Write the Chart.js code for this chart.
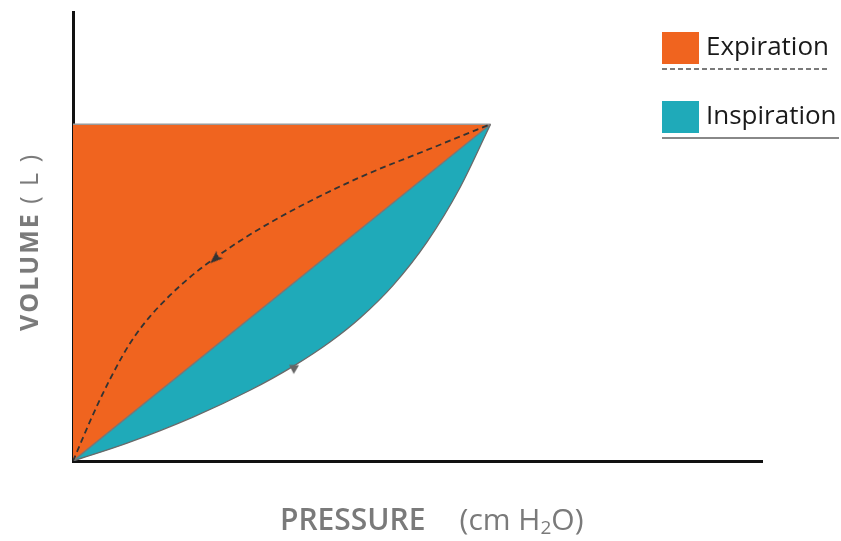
<!DOCTYPE html>
<html>
<head>
<meta charset="utf-8">
<script src="https://cdn.jsdelivr.net/npm/chart.js@4"></script>
<style>
  body { margin: 0; background: #fff; font-family: "Open Sans", sans-serif; }
  #wrap { position: relative; width: 841px; height: 541px; }
  #legend { position: absolute; left: 662px; top: 32px; }
  .item { position: relative; height: 69px; }
  .box { position: absolute; left: 0; top: 0; width: 37px; height: 32px; }
  .label { position: absolute; left: 44px; top: -5px; font-size: 26px; color: #1a1a1a; white-space: nowrap; }
  .rule { position: absolute; left: 0; top: 36px; height: 2px; }
  #xtitle { position: absolute; left: 280px; top: 498px; font-size: 30px; color: #7a7a7a; white-space: nowrap; }
  #xtitle b { font-weight: 600; margin-right: 34px; }
  #ytitle { position: absolute; left: 28px; top: 242px; transform: translate(-50%, -50%) rotate(-90deg);
            font-size: 25px; color: #7a7a7a; white-space: nowrap; letter-spacing: 2px; }
  #ytitle b { font-weight: 700; }
</style>
</head>
<body>
<div id="wrap">
  <canvas id="myChart"></canvas>
  <div id="legend">
    <div class="item">
      <div class="box" style="background:#F0641F"></div>
      <div class="label">Expiration</div>
      <div class="rule" style="width:166px;background:repeating-linear-gradient(90deg,#7a7a7a 0 5px,transparent 5px 8px)"></div>
    </div>
    <div class="item">
      <div class="box" style="background:#1FAAB9"></div>
      <div class="label">Inspiration</div>
      <div class="rule" style="width:177px;background:#888"></div>
    </div>
  </div>
  <div id="xtitle"><b>PRESSURE</b>(cm H<sub style="font-size:19px;vertical-align:-4px">2</sub>O)</div>
  <div id="ytitle"><b>VOLUME</b> ( L )</div>
</div>
<script>
// pressure / volume readings (x in arbitrary pressure units, y in litres)
const diagonalX = [0, 20];
const diagonalY = [0, 3];

const topX = [0, 20];
const topY = [3, 3];

const inspX = [0, 2.59, 5.75, 8.48, 10.54, 12.31, 13.75, 15.33, 16.96, 18.54, 20];
const inspY = [0, 0.159, 0.391, 0.630, 0.843, 1.060, 1.274, 1.565, 1.952, 2.437, 3];

const expX = [0, 1.20, 2.40, 2.97, 3.69, 4.65, 5.60, 6.71, 8.33, 10.54, 13.75, 16.96, 20];
const expY = [0, 0.512, 0.946, 1.115, 1.288, 1.477, 1.637, 1.797, 2.000, 2.236, 2.528, 2.771, 3];

// arrow heads sitting on the two curves
const arrowX = [6.80, 10.58];
const arrowY = [1.80, 0.815];
const arrowRot = [228, 182];
const arrowColors = ["#333333", "#666666"];

function pts(xs, ys) {
    return xs.map((x, i) => ({x: x, y: ys[i]}));
}

// small arrowhead image pointing up, rotated by chart.js
function arrowHead(color, w, len, notch) {
    const c = document.createElement('canvas');
    c.width = 18;
    c.height = 18;
    const g = c.getContext('2d');
    g.fillStyle = color;
    g.beginPath();
    g.moveTo(9, 9 - len / 2);
    g.lineTo(9 + w / 2, 9 + len / 2);
    g.lineTo(9, 9 + len / 2 - notch);
    g.lineTo(9 - w / 2, 9 + len / 2);
    g.closePath();
    g.fill();
    return c;
}

function start() {
    const ctx = document.getElementById('myChart').getContext('2d');
    new Chart(ctx, {
        type: 'line',
        data: {
            datasets: [
                {
                    // arrows
                    data: pts(arrowX, arrowY),
                    showLine: false,
                    pointStyle: [arrowHead(arrowColors[0], 10, 13, 3), arrowHead(arrowColors[1], 10, 9, 0)],
                    pointRadius: 6,
                    pointRotation: arrowRot,
                    fill: false
                },
                {
                    // expiration (dashed)
                    data: pts(expX, expY),
                    borderColor: '#333333',
                    borderWidth: 1.8,
                    borderDash: [6, 4],
                    cubicInterpolationMode: 'monotone',
                    pointRadius: 0,
                    fill: false
                },
                {
                    // straight line from origin to top corner
                    data: pts(diagonalX, diagonalY),
                    borderColor: '#777777',
                    borderWidth: 1.4,
                    pointRadius: 0,
                    fill: false
                },
                {
                    // top edge, orange fill down to diagonal
                    data: pts(topX, topY),
                    borderColor: '#9a9a9a',
                    borderWidth: 1.3,
                    pointRadius: 0,
                    backgroundColor: '#F0641F',
                    fill: {target: 2}
                },
                {
                    // inspiration curve, teal fill up to diagonal
                    data: pts(inspX, inspY),
                    borderColor: '#6a6a6a',
                    borderWidth: 1.3,
                    cubicInterpolationMode: 'monotone',
                    pointRadius: 0,
                    backgroundColor: '#1FAAB9',
                    fill: {target: 2}
                }
            ]
        },
        options: {
            responsive: true,
            maintainAspectRatio: false,
            animation: false,
            layout: {
                padding: {left: 73, top: 12, right: 79, bottom: 80}
            },
            plugins: {
                legend: {display: false},
                tooltip: {enabled: false}
            },
            scales: {
                x: {
                    type: 'linear',
                    min: 0,
                    max: 33,
                    ticks: {display: false},
                    grid: {display: false, drawTicks: false},
                    border: {display: true, color: '#111', width: 3}
                },
                y: {
                    min: 0,
                    max: 4,
                    ticks: {display: false},
                    grid: {display: false, drawTicks: false},
                    border: {display: true, color: '#111', width: 3}
                }
            }
        }
    });
}

window.addEventListener("load", start, false);
</script>
</body>
</html>
